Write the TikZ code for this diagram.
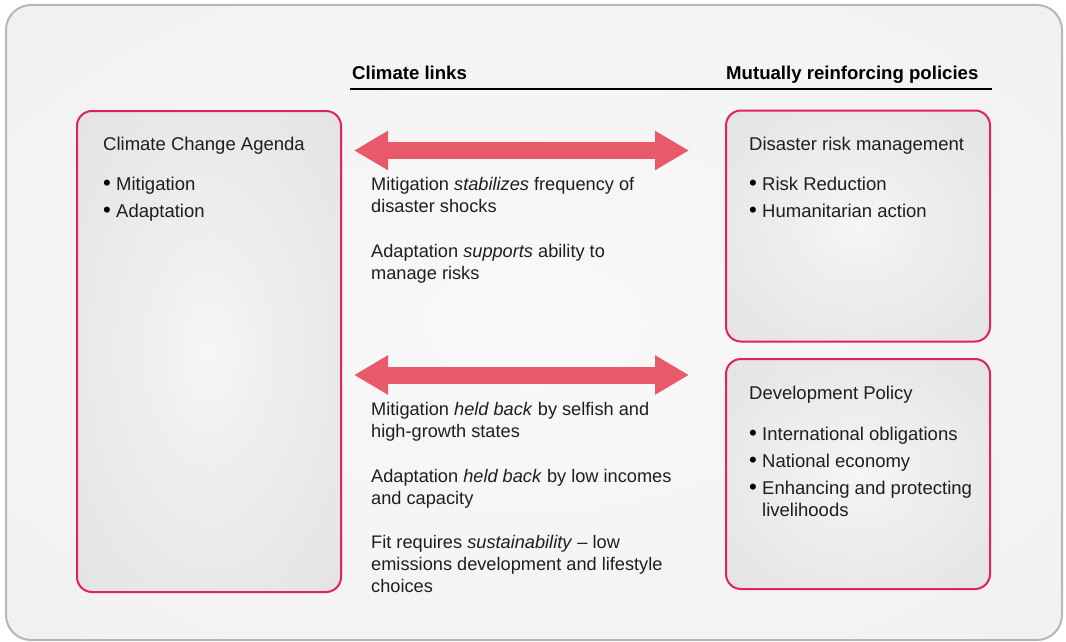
\documentclass[tikz,border=0pt]{standalone}
\usepackage{fontspec}
\setmainfont{Liberation Sans}
\usetikzlibrary{arrows.meta}
\definecolor{crim}{HTML}{E0245A}
\definecolor{arrowred}{HTML}{E85A6A}
\definecolor{txt}{HTML}{1E1E1E}
\definecolor{framegray}{HTML}{B6B6BA}
\pgfdeclareradialshading{boxshade}{\pgfpoint{0bp}{0bp}}{rgb(0bp)=(0.965,0.965,0.97); rgb(12bp)=(0.935,0.935,0.94); rgb(50bp)=(0.865,0.865,0.875); rgb(100bp)=(0.865,0.865,0.875)}
\pgfdeclareradialshading{frameshade}{\pgfpoint{0bp}{0bp}}{rgb(0bp)=(0.975,0.975,0.975); rgb(30bp)=(0.95,0.95,0.95); rgb(50bp)=(0.925,0.925,0.925); rgb(100bp)=(0.925,0.925,0.925)}
\newcommand\bulitem{\makebox[13pt][l]{\color{black}\raisebox{-0.4pt}{\scalebox{1.2}{\textbullet}}}}
\tikzset{
  panel/.style={shade, shading=boxshade, draw=crim, line width=2pt, rounded corners=15pt, inner sep=0pt, minimum width=264pt},
  txtn/.style={anchor=base west, inner sep=0pt, text=txt, font=\fontsize{18.5}{22}\selectfont, align=left},
  midn/.style={txtn, font=\fontsize{18.2}{22}\selectfont},
  headn/.style={anchor=base west, inner sep=0pt, text=black, font=\fontsize{18.6}{22}\selectfont\bfseries},
  fatarrow/.style={arrowred, line width=17pt, {Triangle[length=34pt,width=37pt]}-{Triangle[length=34pt,width=37pt]}}
}
\begin{document}
\begin{tikzpicture}[x=1pt,y=-1pt]
\useasboundingbox (0,0) rectangle (1066,642);
% outer frame
\node[shade, shading=frameshade, draw=framegray, line width=2pt, rounded corners=25pt, inner sep=0pt,
      minimum width=1056pt, minimum height=635pt] (frame) at (534,322.5) {};
% headers
\node[headn] (h1) at (352,80) {Climate links};
\node[headn] (h2) at (726,80) {Mutually reinforcing policies};
\coordinate (ulA) at (350,89);
\coordinate (ulB) at (992,89);
\draw[line width=1.2pt, black] (ulA) -- (ulB);
% panels
\node[panel, minimum height=481pt] (cca) at (209,351.5) {};
\node[panel, minimum height=231pt] (drm) at (858,226) {};
\node[panel, minimum height=230pt] (dev) at (858,474) {};
% panel texts
\node[txtn] (ccaT) at (103,150) {Climate Change Agenda};
\node[txtn] (ccaB1) at (103,190) {\bulitem Mitigation};
\node[txtn] (ccaB2) at (103,217) {\bulitem Adaptation};
\node[txtn] (drmT) at (749,150) {Disaster risk management};
\node[txtn] (drmB1) at (749,190) {\bulitem Risk Reduction};
\node[txtn] (drmB2) at (749,217) {\bulitem Humanitarian action};
\node[txtn] (devT) at (749,399) {Development Policy};
\node[txtn] (devB1) at (749,440) {\bulitem International obligations};
\node[txtn] (devB2) at (749,467) {\bulitem National economy};
\node[txtn] (devB3) at (749,516) {\bulitem Enhancing and protecting\\\hspace*{13pt}livelihoods};
% arrows
\coordinate (a1l) at (354,150.5);
\coordinate (a1r) at (689,150.5);
\coordinate (a2l) at (354,375);
\coordinate (a2r) at (689,375);
\draw[fatarrow] (a1l) -- (a1r);
\draw[fatarrow] (a2l) -- (a2r);
% middle texts (anchored at the baseline of the last line)
\node[midn] (m1) at (371,212) {Mitigation \emph{stabilizes} frequency of\\disaster shocks};
\node[midn] (m2) at (371,279) {Adaptation \emph{supports} ability to\\manage risks};
\node[midn] (m3) at (371,437) {Mitigation \emph{held back} by selfish and\\high-growth states};
\node[midn] (m4) at (371,504) {Adaptation \emph{held back} by low incomes\\and capacity};
\node[midn] (m5) at (371,592) {Fit requires \emph{sustainability} – low\\emissions development and lifestyle\\choices};
\end{tikzpicture}
\end{document}
